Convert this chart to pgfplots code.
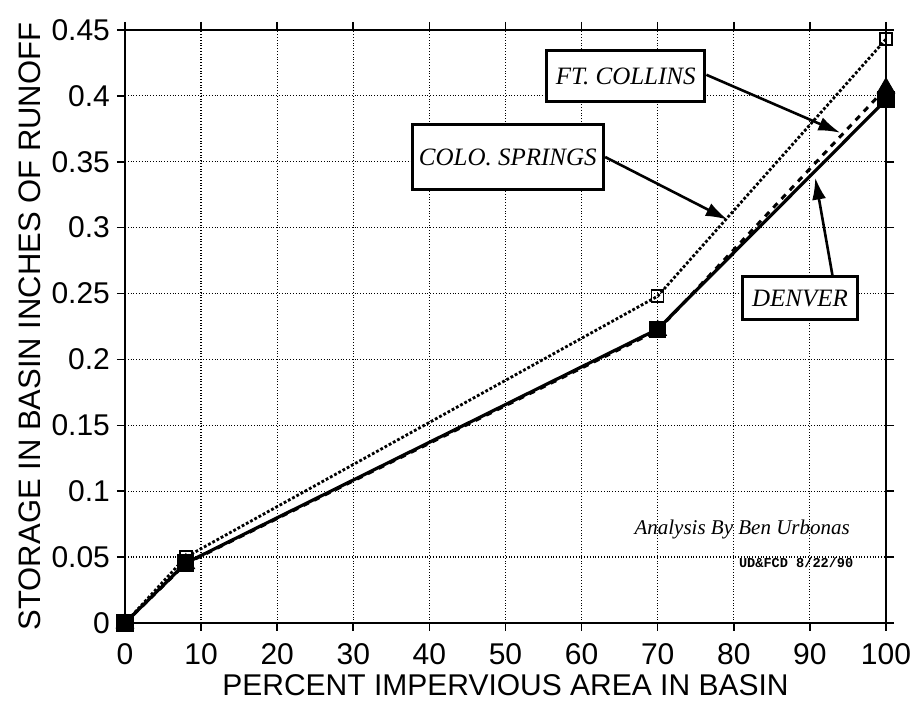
\documentclass[border=0pt]{standalone}
\usepackage{fontspec}
\setmainfont{Liberation Sans}
\setmonofont{Liberation Mono}
\newfontfamily\lserif{Liberation Serif}
\usepackage{pgfplots}
\pgfplotsset{compat=1.18}
\usetikzlibrary{arrows.meta}

% storage vs percent impervious
\pgfplotstableread{
x y
0 0
8 0.050
70 0.248
100 0.443
}\colosprings
\pgfplotstableread{
x y
0 0
8 0.045
70 0.222
100 0.406
}\ftcollins
\pgfplotstableread{
x y
0 0
8 0.0455
70 0.223
100 0.397
}\denver

\begin{document}
\begin{tikzpicture}
\begin{axis}[
  scale only axis,
  width=380.5pt, height=296.5pt,
  xmin=0, xmax=100, ymin=0, ymax=0.45,
  xtick={0,10,...,100},
  ytick={0,0.05,0.1,0.15,0.2,0.25,0.3,0.35,0.4,0.45},
  yticklabel style={/pgf/number format/fixed, /pgf/number format/precision=2},
  xticklabel style={yshift=-3pt},
  /pgf/number format/assume math mode=true,
  tick align=outside,
  major tick length=4pt,
  tick style={black, line width=0.8pt},
  axis line style={line width=1pt},
  grid=major,
  grid style={black, densely dotted, line width=0.6pt},
  tick label style={font=\fontsize{15}{18}\selectfont},
  xlabel={PERCENT IMPERVIOUS AREA IN BASIN},
  ylabel={STORAGE IN BASIN INCHES OF RUNOFF},
  every axis x label/.style={at={(axis description cs:0.5,0)}, yshift=-31pt, anchor=center, font=\fontsize{15}{18}\selectfont},
  every axis y label/.style={at={(axis description cs:0,0.5)}, xshift=-47.5pt, anchor=center, rotate=90, font=\fontsize{15.5}{18}\selectfont},
  clip=false,
]
\addplot[black, densely dotted, line width=1.4pt, mark=square, mark size=3pt, mark options={solid, line width=0.8pt, fill=white}] table {\colosprings};
\addplot[black, dashed, line width=1.5pt, mark=triangle*, mark size=4pt, mark options={solid}] table {\ftcollins};
\addplot[black, solid, line width=1.6pt, mark=square*, mark size=3.5pt] table {\denver};

\coordinate (bl) at (rel axis cs:0,0);
\coordinate (tr) at (rel axis cs:1,1);

% callouts
\tikzset{callout/.style={draw, line width=1.6pt, fill=white, font=\lserif\itshape\fontsize{12.5}{14}\selectfont, inner sep=0pt, anchor=center},
         pointer/.style={line width=1.3pt, -{Latex[length=11pt,width=7pt]}}}
\draw[pointer] (axis cs:76.4,0.416) -- (axis cs:94.0,0.372);
\draw[pointer] (axis cs:63.1,0.3536) -- (axis cs:79.2,0.306);
\draw[pointer] (axis cs:93.0,0.2626) -- (axis cs:90.7,0.338);
\node[callout, minimum width=79pt, minimum height=25.5pt] at (axis cs:65.8,0.415) {FT.\ COLLINS};
\node[callout, minimum width=95.5pt, minimum height=32.5pt] at (axis cs:50.3,0.3536) {COLO.\ SPRINGS};
\node[callout, minimum width=57.5pt, minimum height=21.5pt] at (axis cs:88.7,0.2466) {DENVER};

\node[font=\lserif\itshape\fontsize{10.5}{12}\selectfont] at (axis cs:81.1,0.0706) {Analysis By Ben Urbonas};
\node[font=\ttfamily\bfseries\fontsize{6.8}{8}\selectfont] at (axis cs:88.2,0.0455) {UD\&FCD 8/22/90};
\end{axis}
\pgfresetboundingbox
\path ([shift={(-62.5pt,-42pt)}]bl) rectangle ([shift={(18.5pt,15pt)}]tr);
\end{tikzpicture}
\end{document}
